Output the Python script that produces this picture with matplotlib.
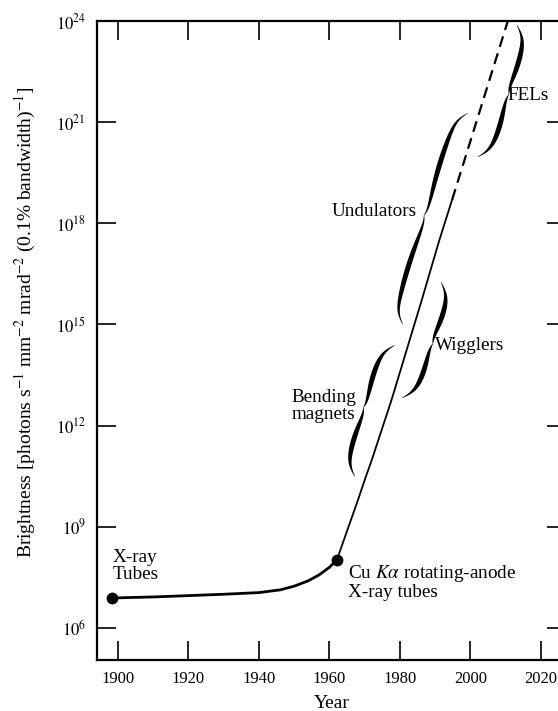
import numpy as np
import matplotlib as mpl
mpl.use('Agg')
from matplotlib import pyplot as plt

plt.rcParams['font.family'] = ['Liberation Serif', 'DejaVu Serif']
plt.rcParams['mathtext.fontset'] = 'stix'

# values: year, log10(brightness)
tube_years = [1898.3, 1910, 1920, 1930, 1940, 1946, 1950, 1954, 1957, 1960, 1962.1]
tube_logb = [6.89, 6.92, 6.96, 7.00, 7.05, 7.13, 7.24, 7.40, 7.57, 7.80, 8.02]

sync_years = [1962.1, 1968.1, 1970.0, 1972.0, 1977.6, 1986.2, 1991.2, 1994.8]
sync_logb = [8.02, 9.80, 10.39, 10.98, 12.76, 15.73, 17.51, 18.7]

proj_years = [1994.8, 2011.2]
proj_logb = [18.7, 24.2]

dot_years = [1898.3, 1962.1]
dot_logb = [6.89, 8.02]

# braces: (end a, end b, side of the tip)
braces = {
    'FELs': ((2002.13, 19.97), (2013.19, 23.88), 1),
    'Undulators': ((1980.85, 14.99), (1999.29, 21.27), -1),
    'Wigglers': ((1980.57, 12.82), (1991.63, 16.26), 1),
    'Bending': ((1967.23, 10.48), (1978.58, 14.39), -1),
}

labels = [
    ('X-ray\nTubes', 1898.6, 7.84, 'left'),
    ('Cu $K\\alpha$ rotating-anode\nX-ray tubes', 1965.3, 7.36, 'left'),
    ('Bending\nmagnets', 1958.4, 12.58, 'center'),
    ('Wigglers', 1989.9, 14.39, 'left'),
    ('Undulators', 1984.8, 18.34, 'right'),
    ('FELs', 2010.6, 21.78, 'left'),
]

xticks = [1900, 1920, 1940, 1960, 1980, 2000, 2020]
yexp = [6, 9, 12, 15, 18, 21, 24]


def brace(ax, p0, p1, side, hook=9.0, tip=3.0, bulge=3.0, wmax=4.6):
    # hand-drawn looking curly brace, built in pixels then mapped back to data
    tr = ax.transData
    a = tr.transform((p0[0], 10.0 ** p0[1]))
    b = tr.transform((p1[0], 10.0 ** p1[1]))
    d = b - a
    L = np.hypot(*d)
    u = d / L
    n = np.array([-u[1], u[0]])
    if np.sign(n[0]) != side:
        n = -n
    t = np.linspace(0, L, 500)
    s = np.minimum(t, L - t)
    off = (hook * np.tanh(s / 11.0) + tip * np.exp(-(L / 2 - s) / 6.0)
           + bulge * np.sin(np.pi * s / (L / 2)))
    w = 0.4 + wmax * np.sin(np.pi * s / (L / 2)) ** 0.8
    c = a + np.outer(t, u) + np.outer(off, n)
    up = c + np.outer(w / 2, n)
    lo = c - np.outer(w / 2, n)
    poly = np.vstack([up, lo[::-1]])
    pts = tr.inverted().transform(poly)
    ax.fill(pts[:, 0], pts[:, 1], color='k', lw=0)


fig = plt.figure(figsize=(5.58, 7.11), dpi=100)
ax = fig.add_axes([0.1738, 0.0717, 0.8405, 0.8988])
ax.set_yscale('log')
ax.set_xlim(1894.04, 2027.1)
ax.set_ylim(10.0 ** 5.05, 10.0 ** 24)

ax.plot(tube_years, 10.0 ** np.array(tube_logb), color='k', lw=2.0)
ax.plot(sync_years, 10.0 ** np.array(sync_logb), color='k', lw=1.3)
ax.plot(proj_years, 10.0 ** np.array(proj_logb), color='k', lw=1.6,
        dashes=(5, 3))
ax.plot(dot_years, 10.0 ** np.array(dot_logb), 'o', color='k', ms=7.5)

for key, (p0, p1, side) in braces.items():
    brace(ax, p0, p1, side)

for txt, x, y, ha in labels:
    ax.text(x, 10.0 ** y, txt, ha=ha, va='center', fontsize=13.8,
            linespacing=0.95)

ax.set_xticks(xticks)
ax.set_yticks([10.0 ** e for e in yexp])
ax.set_yticklabels(['$10^{%d}$' % e for e in yexp])
ax.minorticks_off()
ax.tick_params(direction='in', top=True, right=True, length=14,
               width=1.2, labelsize=12, pad=8)

for sp in ax.spines.values():
    sp.set_linewidth(1.6)

ax.set_xlabel('Year', fontsize=14, labelpad=6)
ax.set_ylabel('Brightness [photons s$^{-1}$ mm$^{-2}$ mrad$^{-2}$ '
              '(0.1% bandwidth)$^{-1}$]', fontsize=14)
ax.yaxis.set_label_coords(-0.125, 0.529)

fig.savefig('out.png', dpi=100)
